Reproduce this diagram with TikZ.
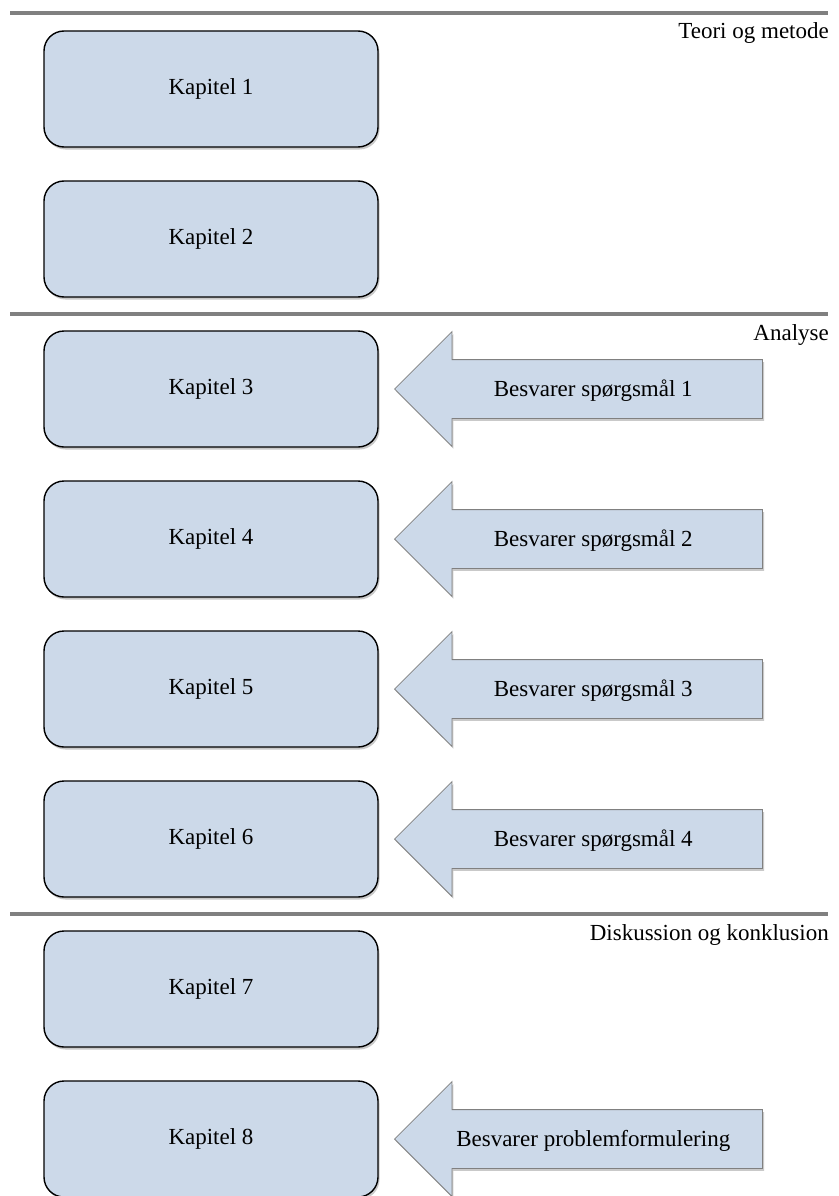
\documentclass[tikz,border=0pt]{standalone}
\usepackage{fontspec}
\setmainfont{Liberation Serif}
\usetikzlibrary{shapes.arrows,shadows}
\definecolor{boxblue}{RGB}{204,217,233}
\definecolor{sepgray}{RGB}{128,128,128}
\begin{document}
\begin{tikzpicture}[x=1pt,y=-1pt,font=\fontsize{23}{28}\selectfont]
    \tikzstyle{soft shadow}=[drop shadow={shadow xshift=1.5pt,shadow yshift=-2.5pt,opacity=0.3,fill=black!70}]
    \tikzstyle{chapter}=[rectangle, rounded corners=20pt, draw=black, line width=1.4pt, fill=boxblue,
        minimum width=334pt, minimum height=116pt, soft shadow]
    \tikzstyle{answer}=[single arrow, shape border rotate=180, draw=sepgray, line width=0.8pt, fill=boxblue,
        single arrow head extend=28pt, single arrow tip angle=90, minimum height=368pt,
        inner xsep=0pt, inner ysep=0pt, text height=36pt, text depth=22pt, anchor=tip, soft shadow]
    \tikzstyle{part}=[anchor=base east, inner sep=0pt]
    \tikzstyle{sep line}=[draw=sepgray, line width=4pt]

    \useasboundingbox (0,0) rectangle (838,1196);

    % Draw the separator lines and part titles
    \foreach \name / \y / \title in {1/13/Teori og metode, 2/314/Analyse, 3/914/Diskussion og konklusion}
    {
      \coordinate (L-\name-a) at (10,\y);
      \coordinate (L-\name-b) at (828,\y);
      \draw[sep line] (L-\name-a) -- (L-\name-b);
      \node[part] (P-\name) at (829,\y+26) {\title};
    }

    % Draw the chapter boxes
    \foreach \name in {1,...,8}
      \node[chapter] (K-\name) at (211,89+150*\name-150) {Kapitel \name};

    % Draw the arrows pointing at the analysis chapters
    \foreach \name / \q in {3/1,4/2,5/3,6/4}
      \node[answer] (A-\name) at (394,89+150*\name-150) {Besvarer spørgsmål \q};

    \node[answer] (A-8) at (394,1139) {Besvarer problemformulering};
\end{tikzpicture}
\end{document}
